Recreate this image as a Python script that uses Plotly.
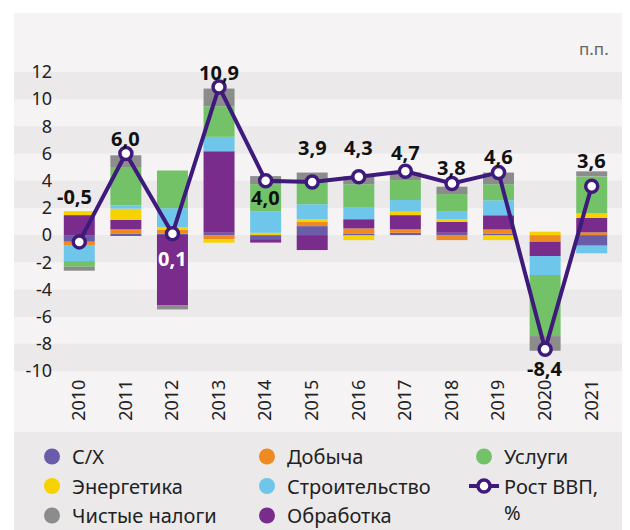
import plotly.graph_objects as go

# ---------------- data ----------------
years = ['2010', '2011', '2012', '2013', '2014', '2015', '2016', '2017', '2018', '2019', '2020', '2021']
agri     = [-0.49, 0.12, 0.10, 0.17, -0.30, 0.66, 0.12, 0.17, 0.17, 0.12, 0.00, -0.78]
mining   = [-0.29, 0.30, 0.29, -0.29, 0.00, 0.31, 0.37, 0.25, -0.37, 0.29, -0.49, 0.20]
manuf    = [1.47, 0.71, -5.15, 6.00, -0.25, -1.10, 0.68, 1.05, 0.81, 1.05, -1.05, 1.06]
energy   = [0.29, 0.81, 0.19, -0.27, 0.17, 0.20, -0.37, 0.25, 0.20, -0.37, 0.25, 0.32]
constr   = [-1.13, 0.25, 1.40, 1.06, 1.59, 1.10, 0.90, 0.86, 0.59, 1.10, -1.40, -0.56]
services = [-0.42, 2.82, 2.77, 2.25, 1.99, 1.71, 1.67, 1.47, 1.25, 1.18, -4.49, 2.74]
taxes    = [-0.29, 0.86, -0.32, 1.30, 0.59, 0.62, 0.59, 0.56, 0.54, 0.86, -1.08, 0.37]
gdp      = [-0.5, 6.0, 0.1, 10.9, 4.0, 3.9, 4.3, 4.7, 3.8, 4.6, -8.4, 3.6]

y_ticks = [-10, -8, -6, -4, -2, 0, 2, 4, 6, 8, 10, 12]

# ---------------- styling ----------------
FONT = "Noto Sans"
W, H = 630, 530
OFF = 8  # page body margin
ML, MR, MT, MB = 48, 23, 64, 167
PW, PH = W - ML - MR, H - MT - MB

def px(x):
    return (x - OFF - ML) / PW

def py(y):
    return (H - MB - (y - OFF)) / PH

C_AGRI = "#6a5ca8"
C_MIN = "#ee8a22"
C_MAN = "#7a2c8c"
C_EN = "#f6d200"
C_CON = "#6ec6ea"
C_SER = "#74c268"
C_TAX = "#8c8c8c"
C_LINE = "#3e1a7d"

BAND_DARK = "#ebe9ea"
PANEL = "#f5f3f4"

label_shift = [45, 15, -25, 14, -17, 35, 29, 19, 16, 16, -19, 26]
label_xshift = [-5, 0, 0, 0, 0, 0, 0, 0, 0, 0, 0, 0]
label_color = ["#111"] * 12
label_color[2] = "white"

fig = go.Figure()

series = [
    ("С/Х", agri, C_AGRI),
    ("Добыча", mining, C_MIN),
    ("Обработка", manuf, C_MAN),
    ("Энергетика", energy, C_EN),
    ("Строительство", constr, C_CON),
    ("Услуги", services, C_SER),
    ("Чистые налоги", taxes, C_TAX),
]
for name, vals, col in series:
    fig.add_trace(go.Bar(x=years, y=vals, name=name, marker=dict(color=col, line=dict(width=0)),
                         showlegend=False, hoverinfo="skip"))

legend_layout = {
    "legend": [("С/Х", C_AGRI), ("Энергетика", C_EN), ("Чистые налоги", C_TAX)],
    "legend2": [("Добыча", C_MIN), ("Строительство", C_CON), ("Обработка", C_MAN)],
    "legend3": [("Услуги", C_SER)],
}
for lg, items in legend_layout.items():
    for name, col in items:
        fig.add_trace(go.Scatter(x=[None], y=[None], mode="markers", name=name,
                                 marker=dict(symbol="circle", size=17, color=col),
                                 legend=lg, legendgroup=name))

fig.add_trace(go.Scatter(
    x=years, y=gdp, mode="lines+markers", name="Рост ВВП,<br>%",
    line=dict(color=C_LINE, width=4),
    marker=dict(symbol="circle", size=12, color="white", line=dict(color=C_LINE, width=3.5)),
    legend="legend3", legendgroup="gdp", hoverinfo="skip"))

for i, (v, s, xs, c) in enumerate(zip(gdp, label_shift, label_xshift, label_color)):
    fig.add_annotation(x=i, y=v, text=f"{v:.1f}".replace(".", ","), showarrow=False,
                       xanchor="center", yanchor="middle",
                       yshift=s, xshift=xs, font=dict(family=FONT, size=20, color=c, weight="bold"))

fig.add_annotation(x=px(594), y=py(48), xref="paper", yref="paper", text="п.п.",
                   xanchor="center", yanchor="middle",
                   showarrow=False, font=dict(family=FONT, size=17, color="#666"))

shapes = [
    dict(type="rect", xref="paper", yref="paper", x0=px(14), x1=px(650), y0=py(13), y1=py(545),
         fillcolor=PANEL, line=dict(width=0), layer="below"),
    dict(type="rect", xref="paper", yref="paper", x0=px(14), x1=px(650), y0=py(432), y1=py(545),
         fillcolor=BAND_DARK, line=dict(width=0), layer="below"),
]
for lo in [10, 6, 2, -2, -6, -10]:
    shapes.append(dict(type="rect", xref="paper", yref="y", x0=px(14), x1=px(650), y0=lo, y1=lo + 2,
                       fillcolor=BAND_DARK, line=dict(width=0), layer="below"))

leg_common = dict(orientation="v", xanchor="left", yanchor="top", bgcolor="rgba(0,0,0,0)",
                  font=dict(family=FONT, size=20, color="#222"), tracegroupgap=0.5,
                  itemclick=False, itemdoubleclick=False)

fig.update_layout(
    width=W, height=H,
    margin=dict(l=ML, r=MR, t=MT, b=MB, autoexpand=False),
    paper_bgcolor="white", plot_bgcolor="rgba(0,0,0,0)",
    barmode="relative", bargap=0.335,
    font=dict(family=FONT, color="#222"),
    shapes=shapes,
    xaxis=dict(type="category", tickangle=-90, tickfont=dict(family=FONT, size=18, color="#222"),
               showgrid=False, zeroline=False, showline=False, ticks="", range=[-0.5, 11.5],
               ticklabelstandoff=4),
    yaxis=dict(range=[-10, 12], tickvals=y_ticks, ticktext=[str(t) for t in y_ticks],
               tickfont=dict(family=FONT, size=18, color="#222"), ticklabelstandoff=3,
               showgrid=False, zeroline=False, showline=False, ticks=""),
    legend=dict(x=px(32), y=py(437), **leg_common),
    legend2=dict(x=px(247), y=py(437), **leg_common),
    legend3=dict(x=px(464), y=py(437), valign="top", **leg_common),
)

fig.write_html("out.html")
